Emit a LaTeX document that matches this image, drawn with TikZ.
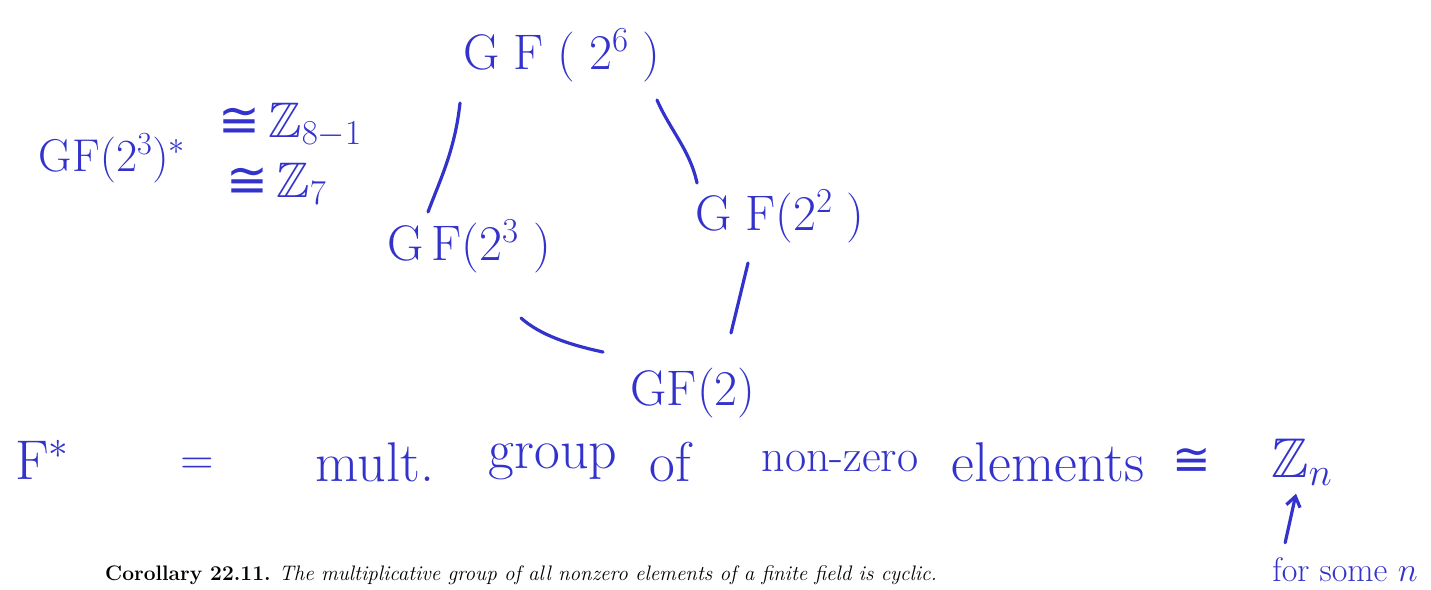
\RequirePackage{fix-cm}
\documentclass[tikz,border=0pt]{standalone}
\usepackage{amsmath,amssymb}
\usepackage{fontspec}
\newfontfamily\symfont{DejaVu Sans}
\newcommand{\isoto}{\text{\symfont ≅}}
\usetikzlibrary{arrows.meta,calc}
\definecolor{ink}{RGB}{51,51,204}
\tikzset{
  hw/.style={text=ink, inner sep=0pt, font=\fontsize{50}{60}\selectfont},
  hwmid/.style={text=ink, inner sep=0pt, font=\fontsize{46}{54}\selectfont},
  hwbig/.style={text=ink, inner sep=0pt, font=\fontsize{56}{64}\selectfont},
  hwsmall/.style={text=ink, inner sep=0pt, font=\fontsize{34}{40}\selectfont},
  stroke/.style={draw=ink, line width=3.2pt, line cap=round},
}
\begin{document}
\begin{tikzpicture}[x=1pt,y=-1pt]
\useasboundingbox (0,0) rectangle (1431,589);
% lattice
\node[hw] (g6) at (562,55) {$\mathrm{G\;F\;(\;2^{6}\;)}$};
\node[hw] (g3) at (469,246) {$\mathrm{G\,F(2^{3}\;)}$};
\node[hw] (g2) at (780,216) {$\mathrm{G\;F(2^{2}\;)}$};
\node[hw] (g1) at (693,393) {$\mathrm{GF(2)}$};
\draw[stroke] (460,103) .. controls (455,150) and (440,180) .. (428,212);
\draw[stroke] (657,100) .. controls (670,130) and (690,150) .. (697,183);
\draw[stroke] (521,318) .. controls (540,335) and (570,345) .. (603,352);
\draw[stroke] (748,263) -- (731,333);
% side label
\node[hwmid] (lstar) at (112,158) {$\mathrm{GF(2^{3})^{*}}$};
\node[hw, anchor=west] (liso1) at (218,125) {$\isoto\,\mathbb{Z}_{8-1}$};
\node[hw, anchor=west] (liso2) at (226,184) {$\isoto\,\mathbb{Z}_{7}$};
% bottom line
\node[hwbig] (fs) at (42,460) {$\mathrm{F}^{*}$};
\node[hwmid] (eq) at (197,466) {$=$};
\node[hwbig] (w1) at (375,462) {mult.};
\node[hwbig] (w2) at (553,462) {group};
\node[hwbig] (w3) at (670,462) {of};
\node[hwmid] (w4) at (840,462) {non-zero};
\node[hwbig] (w5) at (1048,462) {elements};
\node[hwmid] (w6) at (1192,462) {\symfont ≅};
\node[hwbig] (zn) at (1302,462) {$\mathbb{Z}_{n}$};
\node[hwsmall] (some) at (1345,570) {for some $n$};
\draw[stroke, -{Straight Barb[length=10pt,width=14pt]}] ($(some.north west)+(13,-15)$) -- ($(zn.south)+(-6,8)$);
% corollary
\node[anchor=base west, inner sep=0pt, font=\fontsize{21}{25}\selectfont] (cor) at (105,580)
  {\textbf{Corollary 22.11.} \textit{The multiplicative group of all nonzero elements of a finite field is cyclic.}};
\end{tikzpicture}
\end{document}
